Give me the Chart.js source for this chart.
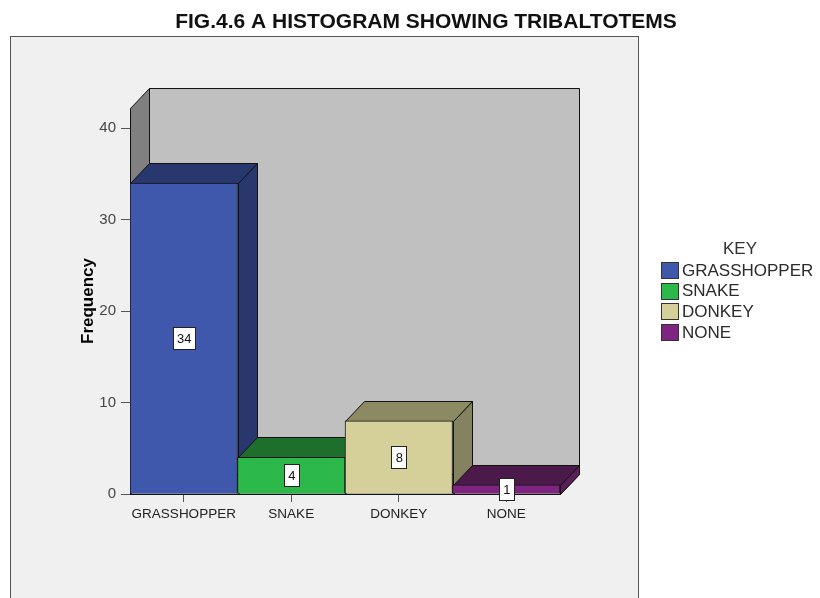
<!DOCTYPE html>
<html>
<head>
<meta charset="utf-8">
<script src="https://cdn.jsdelivr.net/npm/chart.js@4.4.0/dist/chart.umd.min.js"></script>
<style>
  html, body { margin: 0; padding: 0; background: #fff; }
  #wrap { width: 820px; height: 598px; }
</style>
</head>
<body>
<div id="wrap"><canvas id="myBarChart" width="820" height="598"></canvas></div>
<script>
// data
const categories = ["GRASSHOPPER", "SNAKE", "DONKEY", "NONE"];
const frequency = [34, 4, 8, 1];
const yTicks = [0, 10, 20, 30, 40];
const yMax = 42.2;

// colours per bar: front, top, side
const frontColors = ["#3f58ab", "#2db84a", "#d5d09a", "#7e2582"];
const topColors = ["#28376e", "#1e6e2c", "#8c8a62", "#4c1a4a"];
const sideColors = ["#28376e", "#1f7a30", "#858260", "#5a1e58"];

const titleText = "FIG.4.6 A HISTOGRAM SHOWING TRIBALTOTEMS";
const legendTitle = "KEY";

// 3D depth offset
const DX = 19;
const DY = 20;

function poly(ctx, pts, fill) {
  ctx.beginPath();
  ctx.moveTo(pts[0][0], pts[0][1]);
  for (let i = 1; i < pts.length; i++) ctx.lineTo(pts[i][0], pts[i][1]);
  ctx.closePath();
  ctx.fillStyle = fill;
  ctx.fill();
  ctx.strokeStyle = "#111";
  ctx.lineWidth = 1;
  ctx.stroke();
}

const box3d = {
  id: 'box3d',
  beforeDraw(chart) {
    const ctx = chart.ctx;
    ctx.save();
    ctx.fillStyle = "#fff";
    ctx.fillRect(0, 0, chart.width, chart.height);
    // outer frame
    ctx.fillStyle = "#f0f0f0";
    ctx.fillRect(10.5, 36.5, 628, 600);
    ctx.strokeStyle = "#555";
    ctx.strokeRect(10.5, 36.5, 628, 600);
    // title
    ctx.fillStyle = "#111";
    ctx.font = "bold 21px 'Liberation Sans', Arial, sans-serif";
    ctx.textAlign = "center";
    ctx.textBaseline = "middle";
    ctx.fillText(titleText, 426, 22, 510);
    // key
    ctx.font = "17px 'Liberation Sans', Arial, sans-serif";
    ctx.fillStyle = "#333";
    ctx.fillText(legendTitle, 740, 249);
    ctx.textAlign = "left";
    categories.forEach(function (c, i) {
      const cy = 270 + i * 20.7;
      ctx.fillStyle = frontColors[i];
      ctx.fillRect(661.5, Math.round(cy - 8) + 0.5, 17, 16);
      ctx.strokeStyle = "#333";
      ctx.strokeRect(661.5, Math.round(cy - 8) + 0.5, 17, 16);
      ctx.fillStyle = "#2b2b2b";
      ctx.fillText(c, 682, cy + 1);
    });
    ctx.restore();
  },
  beforeDatasetsDraw(chart) {
    const ctx = chart.ctx;
    const a = chart.chartArea;
    const L = Math.round(a.left) + 0.5, R = Math.round(a.right) + 0.5;
    const T = Math.round(a.top) + 0.5, B = Math.round(a.bottom) + 0.5;
    ctx.save();
    // back wall, left wall, floor
    poly(ctx, [[L + DX, T - DY], [R + DX, T - DY], [R + DX, B - DY], [L + DX, B - DY]], "#c0c0c0");
    poly(ctx, [[L, T], [L + DX, T - DY], [L + DX, B - DY], [L, B]], "#808080");
    poly(ctx, [[L, B], [R, B], [R + DX, B - DY], [L + DX, B - DY]], "#9a9a9a");
    // bar sides and tops, left to right
    const meta = chart.getDatasetMeta(0);
    meta.data.forEach(function (bar, i) {
      const l = Math.round(bar.x - bar.width / 2) + 0.5;
      const r = Math.round(bar.x + bar.width / 2) + 0.5;
      const y = Math.round(bar.y) + 0.5;
      const b = Math.round(bar.base) + 0.5;
      poly(ctx, [[r, y], [r + DX, y - DY], [r + DX, b - DY], [r, b]], sideColors[i]);
      poly(ctx, [[l, y], [r, y], [r + DX, y - DY], [l + DX, y - DY]], topColors[i]);
    });
    ctx.restore();
  },
  afterDatasetsDraw(chart) {
    const ctx = chart.ctx;
    const meta = chart.getDatasetMeta(0);
    ctx.save();
    ctx.font = "13px 'Liberation Sans', Arial, sans-serif";
    ctx.textAlign = "center";
    ctx.textBaseline = "middle";
    meta.data.forEach(function (bar, i) {
      const txt = String(frequency[i]);
      const w = Math.round(ctx.measureText(txt).width) + 8;
      const h = 22;
      const cy = (bar.y + bar.base) / 2;
      const x0 = Math.round(bar.x - w / 2) + 0.5;
      const y0 = Math.round(cy - h / 2) + 0.5;
      ctx.fillStyle = "#fff";
      ctx.fillRect(x0, y0, w, h);
      ctx.strokeStyle = "#222";
      ctx.strokeRect(x0, y0, w, h);
      ctx.fillStyle = "#111";
      ctx.fillText(txt, bar.x + 0.5, cy + 1);
    });
    ctx.restore();
  }
};

let ctx = document.getElementById("myBarChart");
let myBarChart = new Chart(ctx, {
  type: 'bar',
  data: {
    labels: categories,
    datasets: [{
      label: "Frequency",
      data: frequency,
      backgroundColor: frontColors,
      borderColor: "#111",
      borderWidth: 1,
      barPercentage: 1,
      categoryPercentage: 1
    }]
  },
  options: {
    responsive: false,
    animation: false,
    devicePixelRatio: 1,
    layout: { padding: { left: 74, top: 108, right: 260, bottom: 0 } },
    plugins: {
      legend: { display: false },
      title: { display: false },
      tooltip: { enabled: false }
    },
    scales: {
      x: {
        grid: { display: true, drawOnChartArea: false, drawTicks: true, tickLength: 8, offset: false, color: "#555" },
        border: { display: true, color: "#111" },
        ticks: {
          color: "#222",
          padding: 4,
          maxRotation: 0,
          font: { size: 13.5, family: "'Liberation Sans', Arial, sans-serif" }
        },
        afterFit: function (scale) { scale.height = 104; }
      },
      y: {
        min: 0,
        max: yMax,
        grid: { display: true, drawOnChartArea: false, drawTicks: true, tickLength: 9, color: "#555" },
        border: { display: true, color: "#111" },
        ticks: {
          color: "#444",
          padding: 5,
          font: { size: 15, family: "'Liberation Sans', Arial, sans-serif" }
        },
        afterBuildTicks: function (scale) {
          scale.ticks = yTicks.map(function (v) { return { value: v }; });
        },
        title: {
          display: true,
          text: "Frequency",
          color: "#000",
          font: { size: 17, weight: "bold", family: "'Liberation Sans', Arial, sans-serif" }
        },
        afterFit: function (scale) { scale.width = 56; }
      }
    }
  },
  plugins: [box3d]
});
</script>
</body>
</html>
